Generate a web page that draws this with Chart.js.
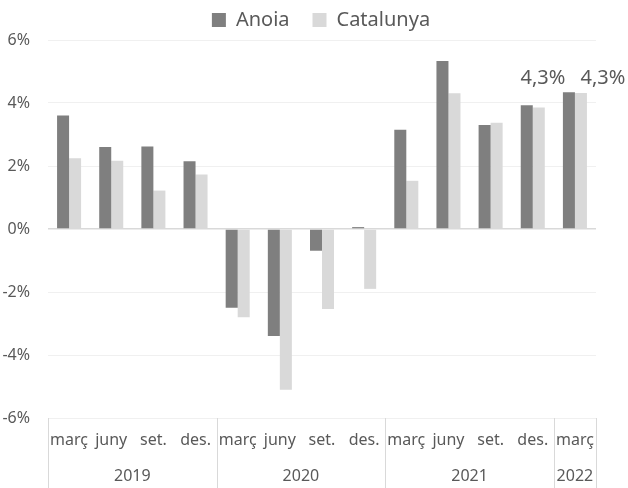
<!DOCTYPE html>
<html>
<head>
<meta charset="utf-8">
<script src="https://cdn.jsdelivr.net/npm/chart.js@4/dist/chart.umd.min.js"></script>
<style>
  html, body { margin: 0; padding: 0; background: #fff; }
  #wrap { width: 628px; height: 488px; }
</style>
</head>
<body>
<div id="wrap"><canvas id="c" width="628" height="488"></canvas></div>
<script>
// ---- data ----
const quarters = ['març','juny','set.','des.','març','juny','set.','des.','març','juny','set.','des.','març'];
const years = ['2019','2020','2021','2022'];
const yearSpans = [4, 4, 4, 1];
const anoia = [3.6, 2.6, 2.62, 2.15, -2.5, -3.4, -0.69, 0.06, 3.15, 5.33, 3.3, 3.93, 4.34];
const catalunya = [2.25, 2.17, 1.22, 1.73, -2.8, -5.1, -2.54, -1.9, 1.53, 4.31, 3.37, 3.86, 4.32];
const yTicks = [-6, -4, -2, 0, 2, 4, 6];

const FONT = "'Noto Sans', 'Open Sans', sans-serif";
const TXT = '#595959';

// two-level category axis: year labels + separators
const yearAxisPlugin = {
  id: 'yearAxis',
  afterDraw(chart) {
    const ctx = chart.ctx;
    const xs = chart.scales.x;
    const area = chart.chartArea;
    const half = (xs.getPixelForValue(1) - xs.getPixelForValue(0)) / 2;
    ctx.save();
    ctx.strokeStyle = '#d9d9d9';
    ctx.lineWidth = 1;
    ctx.font = '16px ' + FONT;
    ctx.fillStyle = TXT;
    ctx.textAlign = 'center';
    ctx.textBaseline = 'middle';
    let idx = 0;
    const bounds = [];
    years.forEach((y, k) => {
      const first = idx, last = idx + yearSpans[k] - 1;
      const left = xs.getPixelForValue(first) - half;
      const right = xs.getPixelForValue(last) + half;
      bounds.push(left, right);
      ctx.fillText(y, (left + right) / 2, area.bottom + 58);
      idx += yearSpans[k];
    });
    const uniq = [...new Set(bounds.map(b => Math.round(b)))];
    uniq.forEach(b => {
      ctx.beginPath();
      ctx.moveTo(b + 0.5, area.bottom);
      ctx.lineTo(b + 0.5, chart.height);
      ctx.stroke();
    });
    ctx.restore();
  }
};

// data labels for the last period
const lastLabelPlugin = {
  id: 'lastLabel',
  afterDatasetsDraw(chart) {
    const ctx = chart.ctx;
    const offsets = [-26, 22];
    ctx.save();
    ctx.font = '20px ' + FONT;
    ctx.fillStyle = TXT;
    ctx.textAlign = 'center';
    ctx.textBaseline = 'middle';
    chart.data.datasets.forEach((ds, i) => {
      const meta = chart.getDatasetMeta(i);
      const n = ds.data.length - 1;
      const el = meta.data[n];
      const txt = ds.data[n].toFixed(1).replace('.', ',') + '%';
      ctx.fillText(txt, el.x + offsets[i], Math.min(meta.data[n].y, chart.getDatasetMeta(0).data[n].y) - 14);
    });
    ctx.restore();
  }
};

new Chart(document.getElementById('c'), {
  type: 'bar',
  data: {
    labels: quarters,
    datasets: [
      { label: 'Anoia', data: anoia, backgroundColor: '#7f7f7f', categoryPercentage: 0.57, barPercentage: 1.0 },
      { label: 'Catalunya', data: catalunya, backgroundColor: '#d9d9d9', categoryPercentage: 0.57, barPercentage: 1.0 }
    ]
  },
  options: {
    responsive: false,
    animation: false,
    devicePixelRatio: 1,
    layout: { padding: { top: -13, right: 0, left: 0, bottom: 0 } },
    plugins: {
      legend: {
        position: 'top',
        labels: {
          boxWidth: 14, boxHeight: 14, padding: 23,
          color: TXT, font: { family: FONT, size: 20 }
        }
      },
      tooltip: { enabled: false }
    },
    scales: {
      x: {
        grid: { display: false, drawTicks: false },
        border: { display: false },
        ticks: { color: TXT, font: { family: FONT, size: 16 }, padding: 13, maxRotation: 0, autoSkip: false },
        afterFit(s) { s.height = 70; }
      },
      y: {
        min: -6, max: 6,
        afterBuildTicks(s) { s.ticks = yTicks.map(v => ({ value: v })); },
        grid: {
          drawTicks: false,
          color: ctx => ctx.tick && ctx.tick.value === 0 ? '#d9d9d9' : '#f0f0f0',
          lineWidth: ctx => ctx.tick && ctx.tick.value === 0 ? 1.5 : 1
        },
        border: { display: false },
        ticks: { color: TXT, font: { family: FONT, size: 16 }, padding: 18, callback: v => v + '%' },
        afterFit(s) { s.width = 48; }
      },
      spacer: {
        type: 'linear',
        position: 'right',
        grid: { display: false, drawTicks: false },
        border: { display: false },
        ticks: { display: false },
        afterFit(s) { s.width = 32; }
      }
    }
  },
  plugins: [yearAxisPlugin, lastLabelPlugin, {
    id: 'legendTweak',
    beforeInit(chart) {
      const lg = chart.legend;
      const fit = lg.fit;
      lg.fit = function () { fit.call(this); this.height = 53; };
      const draw = lg.draw;
      lg.draw = function () {
        const ctx = this.ctx;
        ctx.save();
        ctx.translate(7, 0);
        draw.call(this);
        ctx.restore();
      };
    }
  }]
});
</script>
</body>
</html>
